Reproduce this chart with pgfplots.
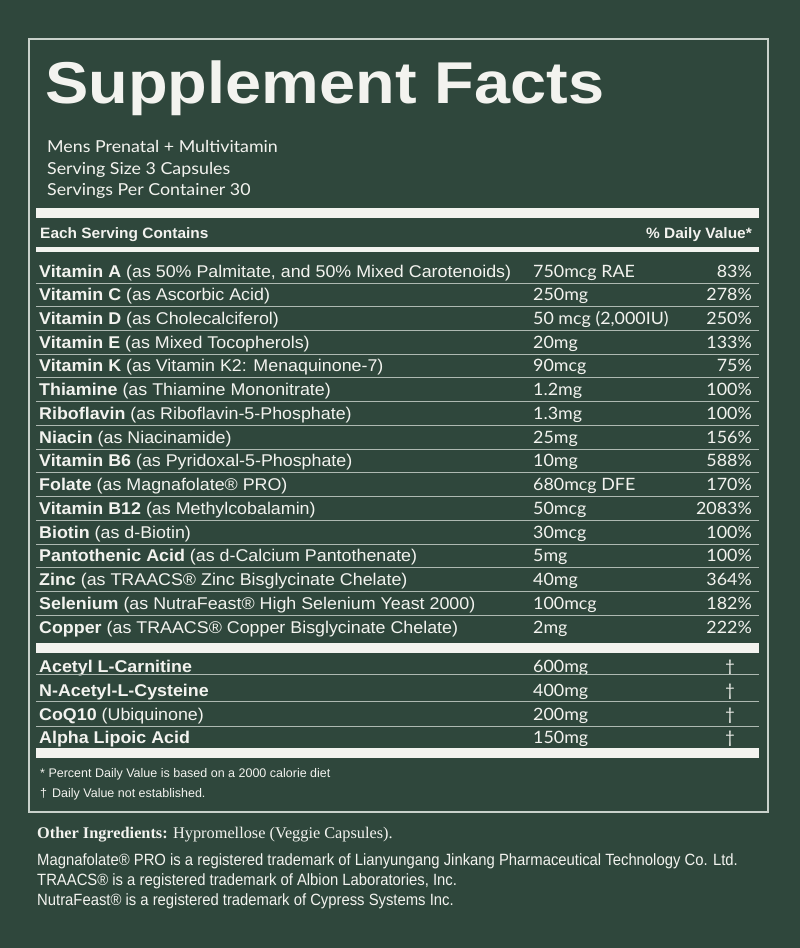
\documentclass[border=0pt]{standalone}
\usepackage{pgfplots}
\pgfplotsset{compat=1.18}
\usepackage{fontspec}
\usepackage{graphicx}
\setmainfont{Liberation Sans}
\newfontfamily\humfont{Lato}
\newfontfamily\serfont{Liberation Serif}
\definecolor{bg}{HTML}{2F473C}
\definecolor{fg}{HTML}{F3F3EF}
\definecolor{rulec}{HTML}{AEB9B2}
\definecolor{framec}{HTML}{C9D1CB}

\newcommand\fs[1]{\fontsize{#1}{#1}\selectfont}
\newcommand\wide[2]{\scalebox{#1}[1]{#2}}
% y, bold name, description, amount, daily value
\newcommand\row[5]{%
  \node[anchor=base west,inner sep=0pt] at (axis cs:39,#1) {\wide{1.05}{\fs{17}\textbf{#2} #3}};
  \node[anchor=base west,inner sep=0pt] at (axis cs:533,#1) {\wide{1.05}{\humfont\fs{17}#4}};
  \node[anchor=base east,inner sep=0pt] at (axis cs:752,#1) {\wide{1.05}{\humfont\fs{17}#5}};
}
\newcommand\xrow[3]{%
  \node[anchor=base west,inner sep=0pt] at (axis cs:39,#1) {\wide{1.05}{\fs{17}#2}};
  \node[anchor=base west,inner sep=0pt] at (axis cs:533,#1) {\wide{1.05}{\humfont\fs{17}#3}};
  \node[anchor=base,inner sep=0pt] at (axis cs:730,#1) {\humfont\fs{17}†};
}
\newcommand\thinrule[1]{\draw[rulec,line width=0.9pt] (axis cs:36,#1) -- (axis cs:759,#1);}
\newcommand\thickbar[2]{\fill[fg] (axis cs:36,#1) rectangle (axis cs:759,#2);}

\begin{document}
\begin{tikzpicture}
\begin{axis}[width=800pt,height=948pt,scale only axis,
  xmin=0,xmax=800,ymin=0,ymax=948,y dir=reverse,
  hide axis,clip=false]
\fill[bg] (axis cs:0,0) rectangle (axis cs:800,948);
\draw[framec,line width=1.4pt] (axis cs:29,39) rectangle (axis cs:768,812);

\node[anchor=base west,inner sep=0pt,text=fg] at (axis cs:45,103)
  {\wide{1.1}{\fs{59}\bfseries Supplement Facts}};
\begin{scope}[every node/.style={anchor=base west,inner sep=0pt,text=fg}]
\node at (axis cs:47,152) {\wide{1.08}{\humfont\fs{16.5}Mens Prenatal + Multivitamin}};
\node at (axis cs:47,174) {\wide{1.08}{\humfont\fs{16.5}Serving Size 3 Capsules}};
\node at (axis cs:47,195) {\wide{1.08}{\humfont\fs{16.5}Servings Per Container 30}};
\end{scope}

\thickbar{208}{218}
\node[anchor=base west,inner sep=0pt,text=fg] at (axis cs:40,238) {\wide{1.03}{\fs{15}\bfseries Each Serving Contains}};
\node[anchor=base east,inner sep=0pt,text=fg] at (axis cs:752,238) {\wide{1.03}{\fs{15}\bfseries \% Daily Value*}};
\thickbar{247}{252}

\begin{scope}[every node/.append style={text=fg}]
\row{277}{Vitamin A}{(as 50\% Palmitate, and 50\% Mixed Carotenoids)}{750mcg RAE}{83\%}
\row{300.7}{Vitamin C}{(as Ascorbic Acid)}{250mg}{278\%}
\row{324.5}{Vitamin D}{(as Cholecalciferol)}{50 mcg (2,000IU)}{250\%}
\row{348.2}{Vitamin E}{(as Mixed Tocopherols)}{20mg}{133\%}
\row{371.9}{Vitamin K}{(as Vitamin K2: Menaquinone-7)}{90mcg}{75\%}
\row{395.7}{Thiamine}{(as Thiamine Mononitrate)}{1.2mg}{100\%}
\row{419.4}{Riboflavin}{(as Riboflavin-5-Phosphate)}{1.3mg}{100\%}
\row{443.1}{Niacin}{(as Niacinamide)}{25mg}{156\%}
\row{466.8}{Vitamin B6}{(as Pyridoxal-5-Phosphate)}{10mg}{588\%}
\row{490.6}{Folate}{(as Magnafolate® PRO)}{680mcg DFE}{170\%}
\row{514.3}{Vitamin B12}{(as Methylcobalamin)}{50mcg}{2083\%}
\row{538.0}{Biotin}{(as d-Biotin)}{30mcg}{100\%}
\row{561.8}{Pantothenic Acid}{(as d-Calcium Pantothenate)}{5mg}{100\%}
\row{585.5}{Zinc}{(as TRAACS® Zinc Bisglycinate Chelate)}{40mg}{364\%}
\row{609.2}{Selenium}{(as NutraFeast® High Selenium Yeast 2000)}{100mcg}{182\%}
\row{633.0}{Copper}{(as TRAACS® Copper Bisglycinate Chelate)}{2mg}{222\%}
\end{scope}
\thinrule{283}\thinrule{306.7}\thinrule{330.5}\thinrule{354.2}\thinrule{377.9}
\thinrule{401.7}\thinrule{425.4}\thinrule{449.1}\thinrule{472.8}\thinrule{496.6}
\thinrule{520.3}\thinrule{544.0}\thinrule{567.8}\thinrule{591.5}\thinrule{615.2}
\thickbar{643}{653}

\begin{scope}[every node/.append style={text=fg}]
\xrow{672}{\textbf{Acetyl L-Carnitine}}{600mg}
\xrow{696}{\textbf{N-Acetyl-L-Cysteine}}{400mg}
\xrow{720}{\textbf{CoQ10} (Ubiquinone)}{200mg}
\xrow{743}{\textbf{Alpha Lipoic Acid}}{150mg}
\end{scope}
\thinrule{674.5}\thinrule{701}\thinrule{726}
\thickbar{748}{758}

\begin{scope}[every node/.style={anchor=base west,inner sep=0pt,text=fg}]
\node at (axis cs:40,777) {\fs{12.5}* Percent Daily Value is based on a 2000 calorie diet};
\node at (axis cs:40,797) {\fs{12.5}†\hspace{5pt}Daily Value not established.};
\node at (axis cs:37,838) {\serfont\fs{16.3}\textbf{Other Ingredients:} Hypromellose (Veggie Capsules).};
\node at (axis cs:37,865) {\wide{0.91}{\fs{16.3}Magnafolate® PRO is a registered trademark of Lianyungang Jinkang Pharmaceutical Technology Co. Ltd.}};
\node at (axis cs:37,885) {\wide{0.91}{\fs{16.3}TRAACS® is a registered trademark of Albion Laboratories, Inc.}};
\node at (axis cs:37,905) {\wide{0.91}{\fs{16.3}NutraFeast® is a registered trademark of Cypress Systems Inc.}};
\end{scope}
\end{axis}
\end{tikzpicture}
\end{document}
